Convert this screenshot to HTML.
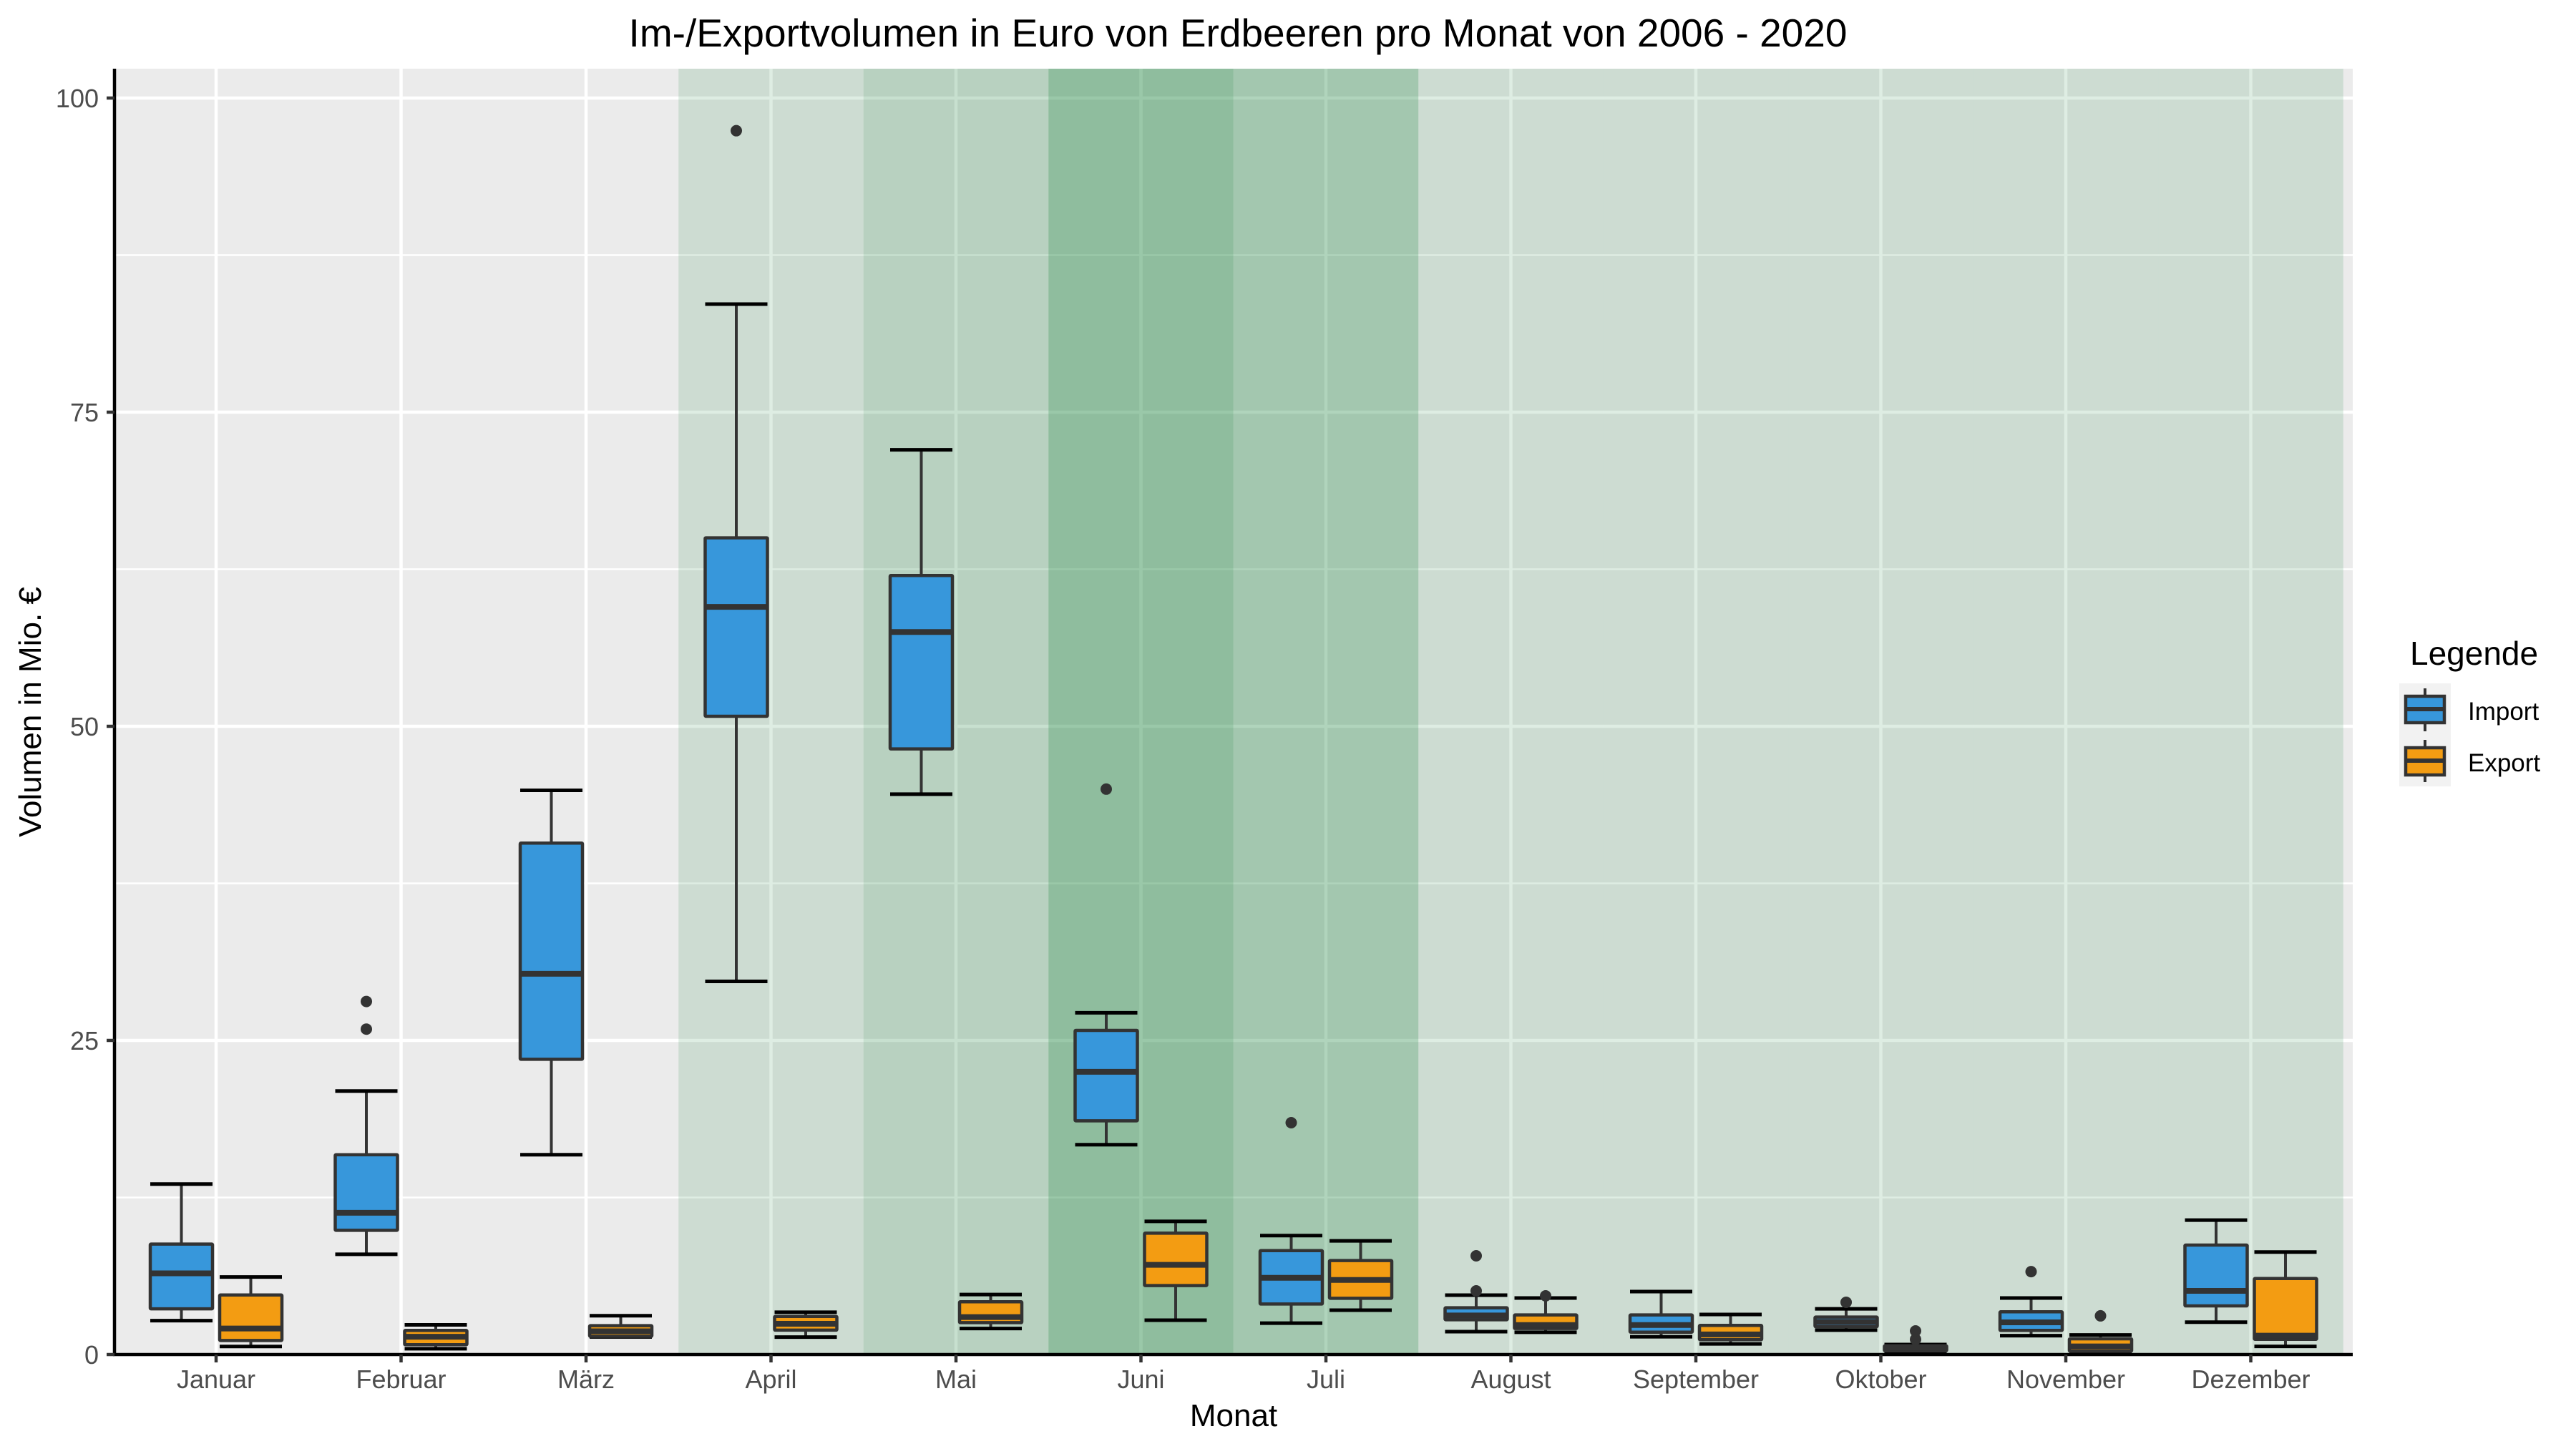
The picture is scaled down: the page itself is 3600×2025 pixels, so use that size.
<!DOCTYPE html>
<html><head><meta charset="utf-8"><style>
html,body{margin:0;padding:0;background:#fff}
svg{display:block;font-family:"Liberation Sans",Arial,sans-serif}
</style></head><body>
<svg id="chart" width="3600" height="2025" viewBox="0 0 3600 2025" xmlns="http://www.w3.org/2000/svg">
<rect x="0" y="0" width="3600" height="2025" fill="#fff"/>
<g id="plot"></g>
<text x="1730" y="65" font-size="55" text-anchor="middle" fill="#000">Im-/Exportvolumen in Euro von Erdbeeren pro Monat von 2006 - 2020</text>
<text x="1724" y="1993" font-size="44" text-anchor="middle" fill="#000">Monat</text>
<text transform="translate(57,995) rotate(-90)" font-size="44" text-anchor="middle" fill="#000">Volumen in Mio. €</text>
<g>
<text x="3368" y="929" font-size="46" fill="#000">Legende</text>
<rect x="3353" y="955" width="72" height="144" fill="#f2f2f2"/>
<g>
<line x1="3389" y1="962" x2="3389" y2="1022" stroke="#333" stroke-width="4"/>
<rect x="3362" y="973" width="54" height="37" fill="#3797db" stroke="#333" stroke-width="4.5"/>
<line x1="3362" y1="991" x2="3416" y2="991" stroke="#333" stroke-width="6"/>
<text x="3449" y="1006" font-size="35" fill="#000">Import</text>
</g>
<g>
<line x1="3389" y1="1034" x2="3389" y2="1093" stroke="#333" stroke-width="4"/>
<rect x="3362" y="1045" width="54" height="38" fill="#f39c12" stroke="#333" stroke-width="4.5"/>
<line x1="3362" y1="1063" x2="3416" y2="1063" stroke="#333" stroke-width="6"/>
<text x="3449" y="1078" font-size="35" fill="#000">Export</text>
</g>
</g>
</svg>
<script>
const months = ["Januar","Februar","März","April","Mai","Juni","Juli","August","September","Oktober","November","Dezember"];
const yTicks = [0,25,50,75,100];
const bandAlpha = [0,0,0,0.15,0.255,0.46,0.355,0.15,0.15,0.15,0.15,0.15];
// [low, q1, median, q3, high]
const importStats = [
 [2.7,3.64,6.46,8.79,13.57],[7.98,9.89,11.28,15.9,20.97],[15.9,23.5,30.3,40.7,44.9],
 [29.7,50.8,59.5,65.0,83.6],[44.6,48.2,57.5,62.0,72.0],[16.7,18.6,22.5,25.8,27.2],
 [2.5,4.02,6.11,8.27,9.47],[1.82,2.77,3.11,3.72,4.73],[1.42,1.78,2.35,3.15,5.01],
 [1.94,2.22,2.6,2.98,3.64],[1.5,1.92,2.56,3.4,4.5],[2.58,3.87,5.07,8.71,10.7]];
const exportStats = [
 [0.64,1.12,2.07,4.74,6.17],[0.46,0.78,1.42,1.92,2.36],[1.4,1.45,1.85,2.3,3.09],
 [1.39,1.94,2.45,3.03,3.37],[2.07,2.54,2.98,4.2,4.78],[2.73,5.49,7.14,9.66,10.6],
 [3.53,4.48,5.94,7.48,9.05],[1.77,2.07,2.35,3.15,4.5],[0.85,1.18,1.6,2.32,3.19],
 [0.25,0.3,0.55,0.7,0.8],[0.2,0.27,0.65,1.25,1.56],[0.65,1.21,1.5,6.05,8.16]];
const importOutliers = [[],[25.9,28.1],[],[97.4],[],[45.0],[18.45],[5.07,7.86],[],[4.16],[6.6],[]];
const exportOutliers = [[],[],[],[],[],[],[],[4.67],[],[1.21,1.88],[3.08],[]];

const NS="http://www.w3.org/2000/svg";
const PL=160, PR=3288, PT=96, PB=1893;
const step=258.5, x0=302;
function xc(i){return x0+i*step;}
function yv(v){return 1893-17.56*v;}
const plot=document.getElementById('plot');
function mk(tag,attrs,parent){const e=document.createElementNS(NS,tag);for(const k in attrs)e.setAttribute(k,attrs[k]);(parent||plot).appendChild(e);return e;}

let e=mk('rect',{x:PL,y:PT,width:PR-PL,height:PB-PT,fill:'#ebebeb'});


for(let k=0;k<yTicks.length-1;k++){
  const m=(yTicks[k]+yTicks[k+1])/2;
  e=mk('line',{x1:PL,x2:PR,y1:yv(m),y2:yv(m),stroke:'#fff','stroke-width':2.5});
  
  
}
yTicks.forEach(t=>{
  e=mk('line',{x1:PL,x2:PR,y1:yv(t),y2:yv(t),stroke:'#fff','stroke-width':4.5});
  
  
});
months.forEach((m,i)=>{
  e=mk('line',{x1:xc(i),x2:xc(i),y1:PT,y2:PB,stroke:'#fff','stroke-width':4.5});
  
  
});
bandAlpha.forEach((a,i)=>{
  if(a<=0)return;
  e=mk('rect',{x:xc(i)-step/2,y:PT,width:step,height:PB-PT,fill:'rgb(35,135,68)','fill-opacity':a});
  
  
});
const bw=87, off=48.5;
function drawBox(i,s,outs,fill,name){
  const cx=xc(i)+off*(name==='import'?-1:1);
  const g=mk('g',{});
  
  
  mk('line',{x1:cx,x2:cx,y1:yv(s[4]),y2:yv(s[3]),stroke:'#333','stroke-width':4},g);
  mk('line',{x1:cx,x2:cx,y1:yv(s[1]),y2:yv(s[0]),stroke:'#333','stroke-width':4},g);
  mk('line',{x1:cx-bw/2,x2:cx+bw/2,y1:yv(s[4]),y2:yv(s[4]),stroke:'#000','stroke-width':5},g);
  mk('line',{x1:cx-bw/2,x2:cx+bw/2,y1:yv(s[0]),y2:yv(s[0]),stroke:'#000','stroke-width':5},g);
  mk('rect',{x:cx-bw/2,y:yv(s[3]),width:bw,height:Math.max(0.5,yv(s[1])-yv(s[3])),fill:fill,stroke:'#333','stroke-width':4.5,rx:1},g);
  mk('line',{x1:cx-bw/2,x2:cx+bw/2,y1:yv(s[2]),y2:yv(s[2]),stroke:'#333','stroke-width':8},g);
  outs.forEach(o=>{
    const c=mk('circle',{cx:cx,cy:yv(o),r:8,fill:'#333'},g);
    
    
  });
}
months.forEach((m,i)=>{
  drawBox(i,importStats[i],importOutliers[i],'#3797db','import');
  drawBox(i,exportStats[i],exportOutliers[i],'#f39c12','export');
});
e=mk('line',{x1:PL,x2:PL,y1:PT,y2:PB+2,stroke:'#000','stroke-width':4.5});


e=mk('line',{x1:PL-2,x2:PR,y1:PB,y2:PB,stroke:'#000','stroke-width':4.5});


yTicks.forEach(t=>{
  e=mk('line',{x1:PL-11,x2:PL,y1:yv(t),y2:yv(t),stroke:'#333','stroke-width':4.5});
  
  
  e=mk('text',{x:PL-22,y:yv(t)+13,'font-size':36,'text-anchor':'end',fill:'#4d4d4d'});
  e.textContent=t;
  
  
});
months.forEach((m,i)=>{
  e=mk('line',{x1:xc(i),x2:xc(i),y1:PB,y2:PB+11,stroke:'#333','stroke-width':4.5});
  
  
  e=mk('text',{x:xc(i),y:1940,'font-size':36,'text-anchor':'middle',fill:'#4d4d4d'});
  e.textContent=m;
  
  
});
</script>
</body></html>
